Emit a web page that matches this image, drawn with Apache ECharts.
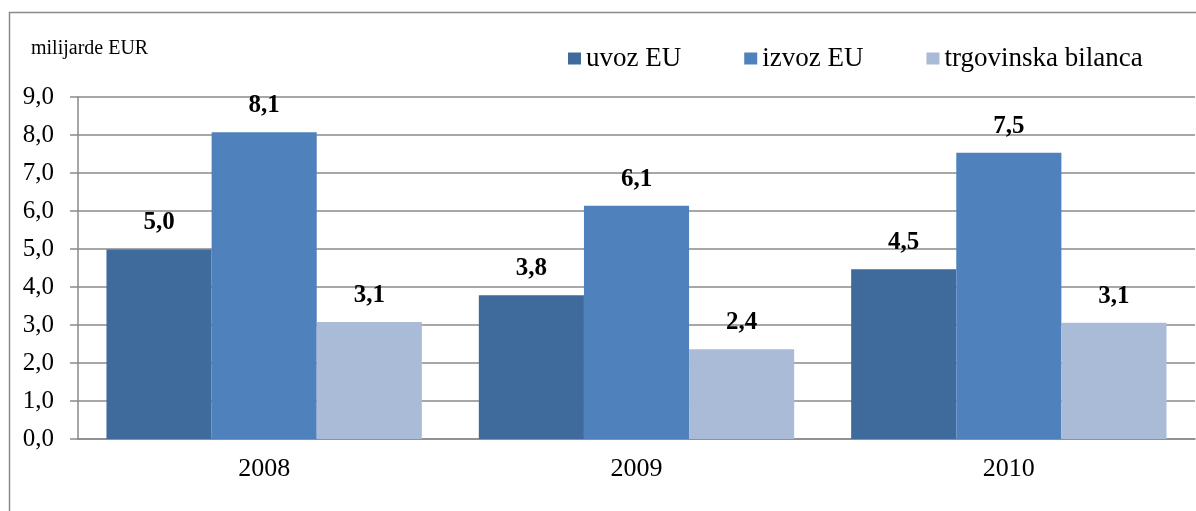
<!DOCTYPE html>
<html>
<head>
<meta charset="utf-8">
<script src="https://cdn.jsdelivr.net/npm/echarts@6/dist/echarts.min.js"></script>
<style>
  html, body { margin: 0; padding: 0; background: #fff; }
  #chart { width: 1196px; height: 511px; }
</style>
</head>
<body>
<div id="chart"></div>
<script>
// values (milijarde EUR)
const years = ['2008', '2009', '2010'];
const uvoz = [4.99, 3.78, 4.47];
const izvoz = [8.07, 6.14, 7.53];
const bilanca = [3.08, 2.36, 3.06];
const seriesNames = ['uvoz EU', 'izvoz EU', 'trgovinska bilanca'];
const colors = ['#3F6A9C', '#4F81BD', '#AABBD8'];

const font = '"Liberation Serif", "Times New Roman", serif';
const fmt = v => v.toFixed(1).replace('.', ',');

function barSeries(name, data, color) {
  return {
    name: name,
    type: 'bar',
    data: data,
    barGap: 0,
    barCategoryGap: '15.3%',
    itemStyle: { color: color },
    label: {
      show: true,
      position: 'top',
      distance: 14,
      fontFamily: font,
      fontSize: 25,
      fontWeight: 'bold',
      color: '#000',
      formatter: p => fmt(p.value)
    }
  };
}

let myChart = echarts.init(document.getElementById('chart'));
myChart.setOption({
  animation: false,
  color: colors,
  title: {
    text: 'milijarde EUR',
    left: 26,
    top: 34,
    textStyle: { fontFamily: font, fontSize: 20, fontWeight: 'normal', color: '#000' }
  },
  legend: {
    data: seriesNames,
    left: 563,
    top: 40,
    itemWidth: 13,
    itemHeight: 12,
    itemGap: 63,
    icon: 'rect',
    textStyle: { fontFamily: font, fontSize: 27, color: '#000' }
  },
  graphic: [{
    type: 'polyline',
    shape: { points: [[9.5, 520], [9.5, 12.5], [1200, 12.5]] },
    style: { stroke: '#8a8a8a', lineWidth: 1.5, fill: null }
  }],
  grid: { left: 78, right: 1, top: 97, bottom: 72 },
  xAxis: {
    type: 'category',
    data: years,
    axisTick: { show: false },
    axisLine: { lineStyle: { color: '#8a8a8a', width: 1.5 } },
    axisLabel: { margin: 17, fontFamily: font, fontSize: 26, color: '#000' }
  },
  yAxis: {
    type: 'value',
    min: 0,
    max: 9,
    interval: 1,
    axisLine: { show: true, lineStyle: { color: '#8a8a8a', width: 1.5 } },
    axisTick: { show: true, length: 8, lineStyle: { color: '#8a8a8a', width: 1.5 } },
    splitLine: { lineStyle: { color: '#8a8a8a', width: 1.5 } },
    axisLabel: { margin: 24, fontFamily: font, fontSize: 25, color: '#000', formatter: fmt }
  },
  series: [
    barSeries(seriesNames[0], uvoz, colors[0]),
    barSeries(seriesNames[1], izvoz, colors[1]),
    barSeries(seriesNames[2], bilanca, colors[2])
  ]
});
</script>
</body>
</html>
